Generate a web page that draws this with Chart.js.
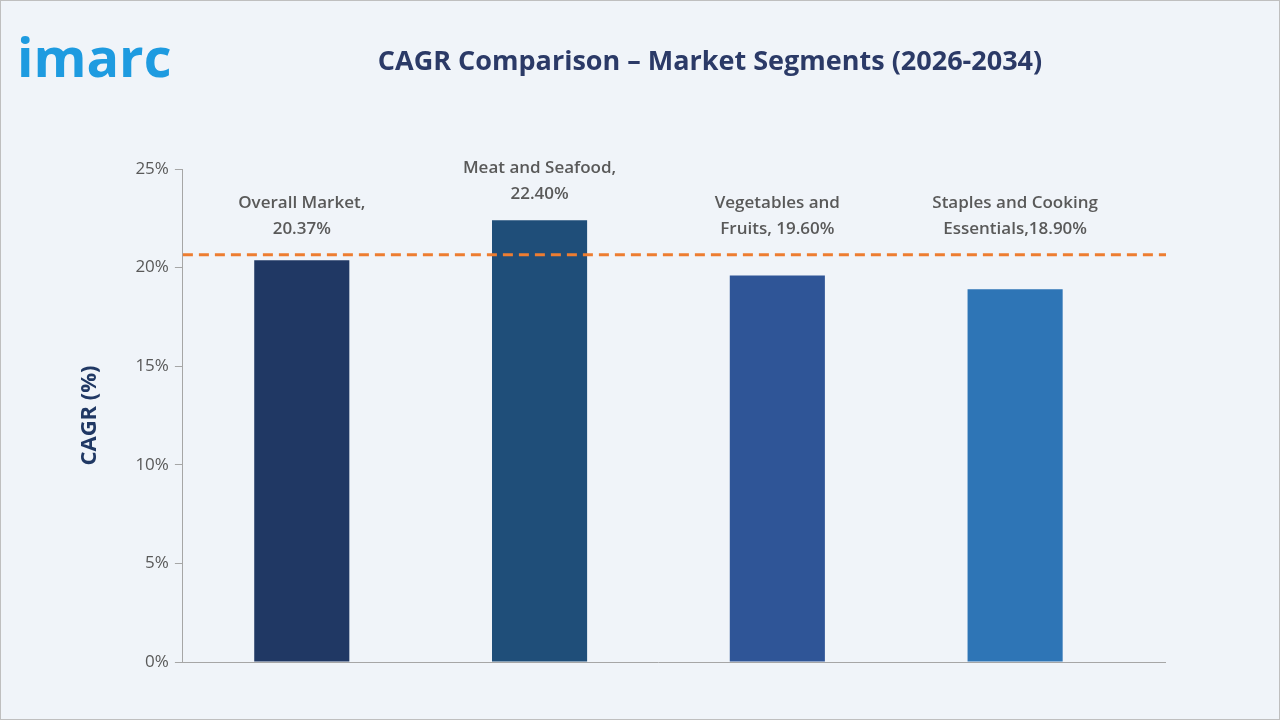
<!DOCTYPE html>
<html><head><meta charset="utf-8">
<script src="https://cdn.jsdelivr.net/npm/chart.js@4"></script>
<style>html,body{margin:0;padding:0;background:#f0f4f9;}#w{width:1278px;height:718px;border:1px solid #bfbfbf;position:relative;}</style>
</head><body><div id="w"><canvas id="c" width="1278" height="718"></canvas></div>
<script>
const categories=["Overall Market","Meat and Seafood","Vegetables and Fruits","Staples and Cooking Essentials"];
const values=[20.37,22.40,19.60,18.90];
const labelLines=[["Overall Market,","20.37%"],["Meat and Seafood,","22.40%"],["Vegetables and","Fruits, 19.60%"],["Staples and Cooking","Essentials,18.90%"]];
const referenceLine=20.65;
const colors=["#203864","#1f4e79","#2f5597","#2e75b6"];
const EXT=32;
const deco={id:'deco',afterDatasetsDraw(ch){
 const {ctx,scales:{x,y},chartArea:a}=ch;
 ctx.save();
 ctx.strokeStyle='#a6a6a6';ctx.lineWidth=1;
 ctx.beginPath();ctx.moveTo(a.right,a.bottom+0.5);ctx.lineTo(a.right+EXT,a.bottom+0.5);ctx.stroke();
 const yy=y.getPixelForValue(referenceLine);
 ctx.strokeStyle='#ed7d31';ctx.lineWidth=3;ctx.setLineDash([10,6]);
 ctx.beginPath();ctx.moveTo(a.left,yy);ctx.lineTo(a.right+EXT,yy);ctx.stroke();
 ctx.setLineDash([]);
 ctx.font='600 17px "Open Sans", sans-serif';ctx.fillStyle='#595959';ctx.textAlign='center';
 values.forEach((v,i)=>{const px=x.getPixelForValue(i),py=Math.min(y.getPixelForValue(v),yy);
  ctx.fillText(labelLines[i][0],px,py-47);ctx.fillText(labelLines[i][1],px,py-21);});
 ctx.font='bold 27px "Open Sans", sans-serif';ctx.fillStyle='#2b3a67';
 ctx.fillText('CAGR Comparison – Market Segments (2026-2034)',709,69);
 ctx.font='bold 54px "Open Sans", sans-serif';ctx.fillStyle='#1e9be0';ctx.textAlign='left';
 ctx.fillText('imarc',16,76);
 ctx.restore();}};
new Chart(document.getElementById('c'),{type:'bar',
 data:{labels:categories,datasets:[{data:values,backgroundColor:colors,barPercentage:0.4,categoryPercentage:1}]},
 options:{responsive:false,animation:false,
  layout:{padding:{top:168,right:113+EXT,bottom:49,left:72}},
  plugins:{legend:{display:false},tooltip:{enabled:false}},
  scales:{
   x:{ticks:{display:false},grid:{display:false},border:{color:'#a6a6a6'}},
   y:{min:0,max:25,ticks:{stepSize:5,callback:v=>v+'%',color:'#595959',font:{size:17,family:'"Open Sans", sans-serif'},padding:6},
      grid:{drawOnChartArea:false,tickLength:8,color:'#a6a6a6'},border:{color:'#a6a6a6'},
      title:{display:true,text:'CAGR (%)',color:'#203864',font:{size:22,weight:'bold',family:'"Open Sans", sans-serif'},padding:{bottom:26}}}}},
 plugins:[deco]});
</script></body></html>
